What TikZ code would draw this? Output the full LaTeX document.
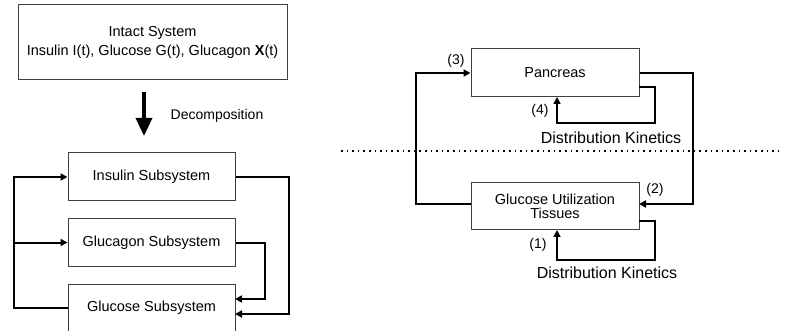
\documentclass[tikz,border=0pt]{standalone}
\usepackage{fontspec}
\setmainfont{Liberation Sans}
\usetikzlibrary{arrows.meta}
\begin{document}
\begin{tikzpicture}[x=1pt,y=-1pt,
  box/.style={draw=black!75,line width=1pt,rectangle,inner sep=0pt,align=center,font=\fontsize{14.5}{15}\selectfont},
  conn/.style={draw=black,line width=2pt,-{Triangle[length=7pt,width=7pt]}},
  loopc/.style={draw=black,line width=1.6pt,-{Triangle[length=7pt,width=7pt]}},
  lbl/.style={inner sep=0pt,font=\fontsize{14}{15}\selectfont},
  dk/.style={inner sep=0pt,font=\fontsize{16}{17}\selectfont}]
\useasboundingbox (0,0) rectangle (787,331);
% ---------- left: intact system ----------
\node[box,minimum width=269pt,minimum height=75pt] (intact) at (152.5,42.5)
  {Intact System\\[4pt]Insulin I(t), Glucose G(t), Glucagon \textbf{X}(t)};
\coordinate (dtop) at (144,92);
\coordinate (dbot) at (144,136);
\draw[line width=3.5pt,-{Triangle[length=18pt,width=16pt]}] (dtop) -- (dbot);
\node[lbl] (dec) at (217,116) {Decomposition};
% ---------- left: subsystems ----------
\node[box,minimum width=167pt,minimum height=48pt] (ins) at (151.5,177) {Insulin Subsystem};
\node[box,minimum width=167pt,minimum height=47pt] (glg) at (151.5,242.5) {Glucagon Subsystem};
\node[box,minimum width=167pt,minimum height=48pt] (glc) at (151.5,308) {Glucose Subsystem};
\coordinate (lx) at (14,0);
\coordinate (r1) at (289,0);
\coordinate (r2) at (265,0);
\coordinate (gin1) at (235,314);
\coordinate (gin2) at (235,299);
\draw[conn] (glc.west) -- (glc.west -| lx) |- (ins.west);
\draw[conn] (lx |- glg.west) -- (glg.west);
\draw[conn] (ins.east) -- (ins.east -| r1) |- (gin1);
\draw[conn] (glg.east) -- (glg.east -| r2) |- (gin2);
% ---------- right ----------
\node[box,minimum width=168pt,minimum height=48pt] (pan) at (555,73) {Pancreas};
\node[box,minimum width=168pt,minimum height=47pt] (gut) at (555,206.5)
  {Glucose Utilization\\[-1pt]Tissues};
\coordinate (lx2) at (416,0);
\coordinate (rx2) at (693,0);
\coordinate (gl) at (471,204);
\coordinate (gr) at (639,204);
\draw[conn] (gl) -- (gl -| lx2) |- (pan.west);
\draw[conn] (pan.east) -- (pan.east -| rx2) |- (gr);
% self loops
\coordinate (p1) at (639,87);
\coordinate (p2) at (655,123);
\coordinate (pb) at (557,97);
\draw[loopc] (p1) -| (p2) -| (pb);
\coordinate (g1) at (639,221);
\coordinate (g2) at (655,260);
\coordinate (gb) at (557,230);
\draw[loopc] (g1) -| (g2) -| (gb);
% labels
\node[lbl] (l3) at (456,61) {(3)};
\node[lbl] (l4) at (540,111) {(4)};
\node[lbl] (l2) at (655,190) {(2)};
\node[lbl] (l1) at (538,245) {(1)};
\node[dk] (dk1) at (611,138) {Distribution Kinetics};
\node[dk] (dk2) at (607,273) {Distribution Kinetics};
% dotted separator
\coordinate (s1) at (341,151);
\coordinate (s2) at (778,151);
\draw[line width=1.6pt,dash pattern=on 1.6pt off 4pt] (s1) -- (s2);
\end{tikzpicture}
\end{document}
